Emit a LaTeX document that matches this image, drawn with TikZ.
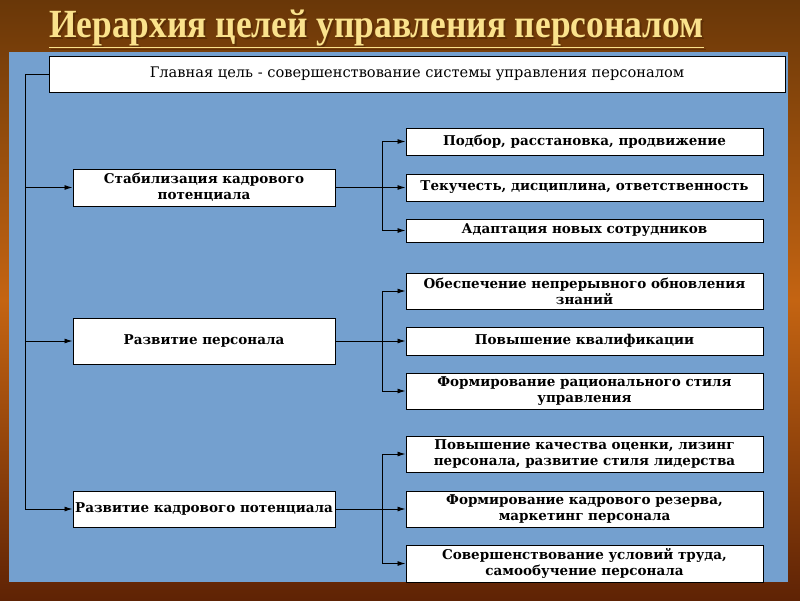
\documentclass[tikz,border=0pt]{standalone}
\usepackage{fontspec}
\setmainfont{DejaVu Serif}
\newfontfamily\titlefont{Liberation Serif}
\usepackage{tikz}
\usetikzlibrary{arrows.meta, positioning, calc}
\definecolor{hrbrowntop}{RGB}{105,55,8}
\definecolor{hrorange}{RGB}{196,100,18}
\definecolor{hrbrownbot}{RGB}{95,35,5}
\definecolor{hrpanel}{RGB}{116,160,207}
\definecolor{hryellow}{RGB}{250,226,140}
\definecolor{hrshadow}{RGB}{80,40,5}
\tikzset{
  goal/.style={draw=black, fill=white, line width=1pt, align=center, inner sep=0pt,
    font=\fontsize{13.5}{16}\selectfont\bfseries},
  subgoal/.style={goal, minimum width=357pt},
  mid/.style={goal, minimum width=262pt},
  arr/.style={-{Latex[length=8pt,width=5pt]}, line width=0.9pt},
  ln/.style={line width=0.9pt}
}

\begin{document}
\begin{tikzpicture}[x=1pt,y=-1pt]
% background and panel
\shade[top color=hrbrowntop, bottom color=hrbrownbot, middle color=hrorange] (0,0) rectangle (800,600);
\fill[hrpanel] (9,52) rectangle (788,582);
\useasboundingbox (0,0) rectangle (800,600);

% title
\node[anchor=base west, inner sep=0pt, text=hrshadow, opacity=0.6] (titleshadow) at (51,39)
  {\titlefont\bfseries\fontsize{40}{44}\selectfont\scalebox{0.885}[1]{\underline{Иерархия целей управления персоналом}}};
\node[anchor=base west, inner sep=0pt, text=hryellow] (title) at (49,37)
  {\titlefont\bfseries\fontsize{40}{44}\selectfont\scalebox{0.885}[1]{\underline{Иерархия целей управления персоналом}}};

% main goal
\node[goal, minimum width=736pt, minimum height=36pt, font=\fontsize{14.6}{16}\selectfont] (main) at (417,74)
  {Главная цель - совершенствование системы управления персоналом};

% second level
\node[mid, minimum height=37pt] (stab) at (204,187.5) {Стабилизация кадрового\\потенциала};
\node[mid, minimum height=46pt] (razv) at (204,341) {Развитие персонала};
\node[mid, minimum height=36pt] (pot) at (204,509) {Развитие кадрового потенциала};

% third level
\node[subgoal, minimum height=27pt] (a1) at (584.5,141.5) {Подбор, расстановка, продвижение};
\node[subgoal, minimum height=27pt] (a2) at (584.5,187.5) {Текучесть, дисциплина, ответственность};
\node[subgoal, minimum height=23pt] (a3) at (584.5,230.5) {Адаптация новых сотрудников};
\node[subgoal, minimum height=36pt] (b1) at (584.5,291) {Обеспечение непрерывного обновления\\знаний};
\node[subgoal, minimum height=28pt] (b2) at (584.5,341) {Повышение квалификации};
\node[subgoal, minimum height=36pt] (b3) at (584.5,391) {Формирование рационального стиля\\управления};
\node[subgoal, minimum height=36pt] (c1) at (584.5,454) {Повышение качества оценки, лизинг\\персонала, развитие стиля лидерства};
\node[subgoal, minimum height=36pt] (c2) at (584.5,509) {Формирование кадрового резерва,\\маркетинг персонала};
\node[subgoal, minimum height=37pt] (c3) at (584.5,563.5) {Совершенствование условий труда,\\самообучение персонала};

% left trunk
\coordinate (trunk) at (25,74);
\draw[ln] (main.west) -- (trunk);
\draw[arr] (trunk) |- (stab.west);
\draw[arr] (trunk) |- (razv.west);
\draw[arr] (trunk) |- (pot.west);

% branches on the right
\coordinate (ja) at (382,187.5);
\coordinate (jb) at (382,341);
\coordinate (jc) at (382,509);
\draw[ln] (stab.east) -- (ja);
\draw[ln] (razv.east) -- (jb);
\draw[ln] (pot.east) -- (jc);
\foreach \j/\n in {ja/a1, ja/a2, ja/a3, jb/b1, jb/b2, jb/b3, jc/c1, jc/c2, jc/c3}
  \draw[arr] (\j) |- (\n.west);
\end{tikzpicture}
\end{document}
